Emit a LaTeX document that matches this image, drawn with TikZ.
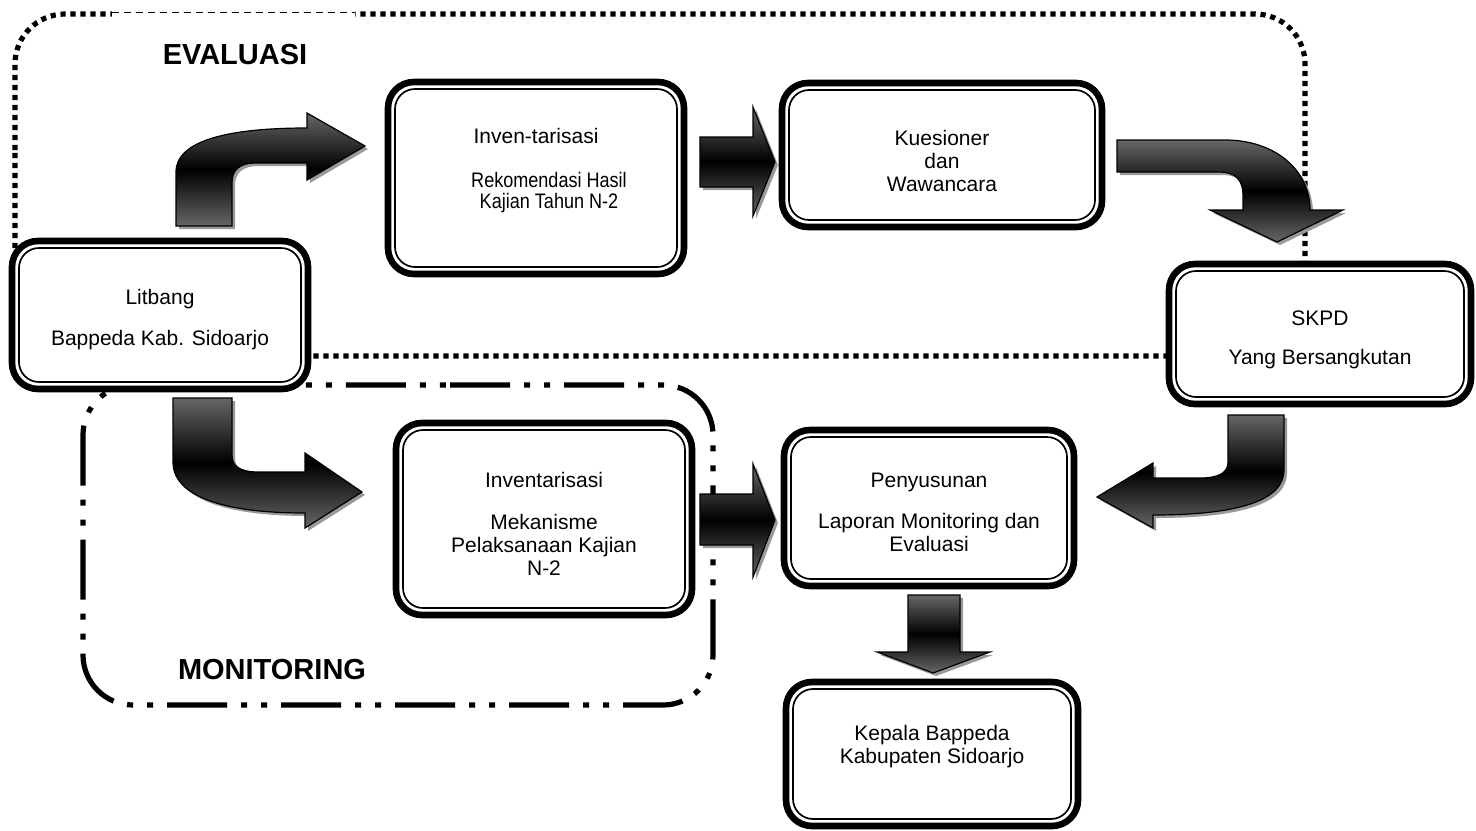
\documentclass[tikz,border=0pt]{standalone}
\usepackage{graphicx}
\usepackage{fontspec}
\setmainfont{Liberation Sans}
\usetikzlibrary{calc,shadows}
\newcommand{\narrowtxt}[1]{\hspace*{13pt}\scalebox{0.86}[1]{#1}}
\newcommand{\padtop}[1]{\rule{0pt}{#1}}

\begin{document}
\begin{tikzpicture}[
		x=0.5pt, y=-0.5pt,
		box/.style={draw, line width=3.3pt, rounded corners=13pt, fill=white, align=center,
			inner sep=0pt, outer sep=0pt, font=\fontsize{10.5}{11.5}\selectfont},
		boxinner/.style={draw, line width=0.85pt, rounded corners=10pt},
		blockarrow/.style={draw, line width=0.6pt, top color=black!60, bottom color=black!60,
			middle color=black, drop shadow={shadow xshift=1.5pt, shadow yshift=-1.5pt, fill=black!40, opacity=1}},
		evalline/.style={line width=2.6pt, dash pattern=on 2.6pt off 2.4pt, rounded corners=25pt},
		monline/.style={line width=2.6pt, dash pattern=on 30pt off 7pt on 3pt off 7pt on 3pt off 7pt, rounded corners=25pt},
		title/.style={font=\fontsize{14.5}{17}\selectfont\bfseries}
		]
		\useasboundingbox (0,0) rectangle (1476,830);
		% Evaluasi area (dotted)
		\draw[evalline] (15,200) -- (15,14) -- (1305,14) -- (1305,356) -- (15,356) -- cycle;
		\fill[white] (112,6) rectangle (355,22);
		\draw[line width=0.5pt, dash pattern=on 3.5pt off 2.5pt] (112,12.5) -- (355,12.5);
		% Monitoring area (dash dot dot)
		\draw[monline] (400,385) -- (713,385) -- (713,705) -- (83,705) -- (83,385) -- cycle;

		% Boxes
		\node[box, minimum width=148pt, minimum height=74pt] (litbang) at (160,315)
			{\padtop{12.6pt}Litbang\\[9pt]Bappeda Kab. Sidoarjo};
		\node[box, minimum width=148pt, minimum height=96pt, text depth=10pt] (inv) at (536,178)
			{Inven-tarisasi\\[10.5pt]\narrowtxt{Rekomendasi Hasil}\\[-1pt]\narrowtxt{Kajian Tahun N-2}};
		\node[box, minimum width=160pt, minimum height=72pt] (kues) at (942,155)
			{\padtop{13.6pt}Kuesioner\\dan\\Wawancara};
		\node[box, minimum width=151pt, minimum height=70pt] (skpd) at (1320,334)
			{\padtop{13.6pt}SKPD\\[8pt]Yang Bersangkutan};
		\node[box, minimum width=148pt, minimum height=96pt] (mek) at (544,519)
			{\padtop{12.6pt}Inventarisasi\\[9.5pt]Mekanisme\\Pelaksanaan Kajian\\N-2};
		\node[box, minimum width=145pt, minimum height=78pt] (peny) at (929,508)
			{\padtop{11.6pt}Penyusunan\\[9pt]Laporan Monitoring dan\\Evaluasi};
		\node[box, minimum width=146pt, minimum height=72pt, text depth=10pt] (kepala) at (932,754)
			{Kepala Bappeda\\Kabupaten Sidoarjo};
		% Inner lines of the boxes
		\foreach \n in {litbang,inv,kues,skpd,mek,peny,kepala}
			\draw[boxinner] ($(\n.north west)+(7,7)$) rectangle ($(\n.south east)+(-7,-7)$);

		% Litbang -> Inven-tarisasi
		\path[blockarrow, shift={(litbang.north)}] (16,-15) -- (16,-69) .. controls (16,-101) and (70,-113) .. (147,-113)
			-- (147,-128) -- (205,-95) -- (147,-61) -- (147,-78) -- (95,-78) .. controls (80,-78) and (72,-71) .. (72,-59)
			-- (72,-15) -- cycle;
		% Inven-tarisasi -> Kuesioner
		\path[blockarrow, shift={(inv.east)}] (16,-41) -- (69,-41) -- (69,-71) -- (91,-16) -- (69,38) -- (69,9) -- (16,9) -- cycle;
		% Kuesioner -> SKPD
		\path[blockarrow, shift={(kues.east)}] (15,-15) -- (123,-15) .. controls (173,-15) and (208,15) .. (208,55)
			-- (241,55) -- (175,87) -- (108,55) -- (141,55) -- (141,40) .. controls (141,25) and (133,17) .. (118,17)
			-- (15,17) -- cycle;
		% Litbang -> Inventarisasi
		\path[blockarrow, shift={(litbang.south)}] (13,9) -- (72,9) -- (72,66) .. controls (72,77) and (80,83) .. (98,83)
			-- (145,83) -- (145,64) -- (202,103) -- (145,139) -- (145,124) .. controls (60,124) and (13,106) .. (13,73) -- cycle;
		% Inventarisasi -> Penyusunan
		\path[blockarrow, shift={(mek.east)}] (8,-25) -- (61,-25) -- (61,-55) -- (83,1) -- (61,58) -- (61,26) -- (8,26) -- cycle;
		% SKPD -> Penyusunan
		\path[blockarrow, shift={(skpd.south)}] (-92,11) -- (-36,11) -- (-36,66) .. controls (-36,96) and (-80,111) .. (-167,111)
			-- (-167,124) -- (-223,93) -- (-167,59) -- (-167,74) -- (-120,74) .. controls (-100,74) and (-92,68) .. (-92,58) -- cycle;
		% Penyusunan -> Kepala
		\path[blockarrow, shift={(peny.south)}] (-21,9) -- (31,9) -- (31,66) -- (61,66) -- (4,87) -- (-52,66) -- (-21,66) -- cycle;

		% Titles
		\node[title] (evaltitle) at (235,55) {EVALUASI};
		\node[title] (montitle) at (272,670) {MONITORING};
	\end{tikzpicture}
\end{document}
